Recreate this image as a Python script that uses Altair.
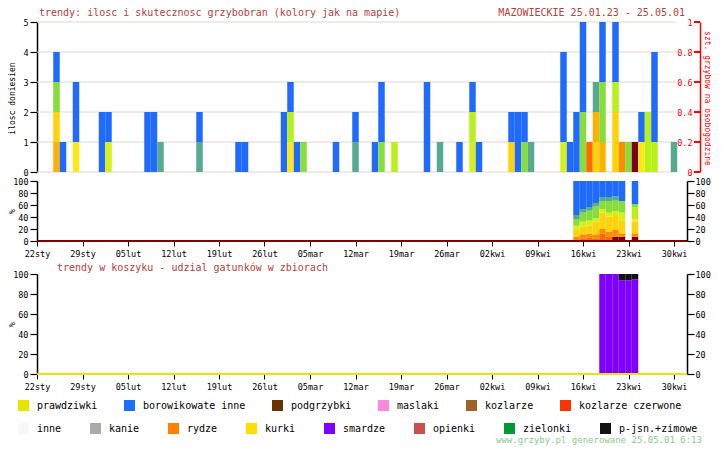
import altair as alt
import pandas as pd

FONT = "DejaVu Sans Mono"
TITLE_RED = "#b5403c"
GRID = "#e2d4cc"

# ---- date axis (day index 0 = 22 Jan 2025) ----
tick_days = [0, 7, 14, 21, 28, 35, 42, 49, 56, 63, 70, 77, 84, 91, 98]
tick_labels = ["22sty", "29sty", "05lut", "12lut", "19lut", "26lut", "05mar", "12mar",
               "19mar", "26mar", "02kwi", "09kwi", "16kwi", "23kwi", "30kwi"]
label_expr = "[" + ",".join("'%s'" % s for s in tick_labels) + "][round(datum.value / 7)]"

# ---- success levels (map colours), bottom -> top ----
level_codes = ["m", "do", "o", "a", "g", "y", "yl", "yg", "lg", "t", "b"]
level_colors = ["#7d0015", "#ff6a00", "#ff8c00", "#ffb000", "#ffd30c", "#ffe81a",
                "#d8f01a", "#b8f01a", "#86dd3c", "#55aa90", "#1f6bff"]

# ---- top chart: reports per day, stacked bottom -> top ----
top_days = [3, 4, 6, 10, 11, 17, 18, 19, 25, 31, 32, 38, 39, 40, 41, 46, 49, 52, 53, 55,
            60, 62, 65, 67, 68, 73, 74, 75, 76, 81, 82, 83, 84, 85, 86, 87, 89, 90, 91, 92,
            93, 94, 95, 98]
top_stacks = ["a g lg b", "b", "y b b", "b b", "yl b", "b b", "b b", "t", "t b", "b",
              "b", "b b", "y yg b", "b", "lg", "b", "t b", "b", "lg b b", "yg",
              "b b b", "t", "b", "yl yg b", "b", "g b", "b b", "lg b", "t", "yl b b b",
              "b", "b b", "lg lg b b b", "do", "g a t", "a lg lg b b", "g g yg b b", "o", "lg", "m",
              "y b", "yg yg", "yg b b b", "t"]
right_vals = [0, 0.2, 0.4, 0.6, 0.8, 1]
count_vals = [0, 1, 2, 3, 4, 5]

# ---- middle chart: % share of levels per day (order = level_codes) ----
mid_days = [83, 84, 85, 86, 87, 88, 89, 90, 92]
mid_shares = [
    [0, 0, 7.2, 0, 11.1, 0, 7.2, 0, 11.1, 6.7, 56.7],
    [0, 4.4, 6.7, 0, 12.8, 0, 8.3, 0, 15.0, 6.1, 46.7],
    [0, 6.1, 5.6, 0, 13.9, 0, 8.3, 0, 16.7, 6.1, 43.3],
    [0, 4.4, 5.6, 0, 22.2, 0, 5.6, 0, 20.6, 5.0, 36.6],
    [0, 12.8, 7.2, 0, 27.2, 0, 6.1, 0, 13.3, 6.7, 26.7],
    [0, 7.2, 8.3, 0, 25.0, 0, 6.7, 0, 19.4, 6.7, 26.7],
    [7.2, 0, 12.2, 0, 23.9, 0, 6.7, 0, 17.2, 7.2, 25.6],
    [7.2, 0, 5.6, 0, 20.6, 0, 13.9, 0, 19.4, 0, 33.3],
    [7.2, 0, 5.6, 0, 19.4, 4.4, 0, 19.4, 5.6, 0, 38.4],
]
pct_vals = [0, 20, 40, 60, 80, 100]

# ---- bottom chart: species share in basket ----
bot_days = [87, 88, 89, 90, 91, 92]
smardze_share = [100, 100, 100, 93.7, 93.7, 94.7]
pjsn_share = [0, 0, 0, 6.3, 6.3, 5.3]

row1_species = ["prawdziwki", "borowikowate inne", "podgrzybki", "maslaki", "kozlarze",
                "kozlarze czerwone"]
row1_colors = ["#e6e600", "#1e6eff", "#6b3300", "#ff88dd", "#a0602a", "#ff3300"]
row2_species = ["inne", "kanie", "rydze", "kurki", "smardze", "opienki", "zielonki",
                "p-jsn.+zimowe"]
row2_colors = ["#f8f8f8", "#aaaaaa", "#ff8000", "#ffdd00", "#8000ff", "#c85050", "#009933",
               "#111111"]

title_left = "trendy: ilosc i skutecznosc grzybobran (kolory jak na mapie)"
title_right = "MAZOWIECKIE 25.01.23 - 25.05.01"
title_bottom = "trendy w koszyku - udzial gatunków w zbiorach"
footer = "www.grzyby.pl generowane 25.05.01  6:13"

# ---------------- data frames ----------------
rows = []
for d, s in zip(top_days, top_stacks):
    acc = 0
    for code in s.split():
        rows.append(dict(x0=d - 0.5, x1=d + 0.5, y0=acc, y1=acc + 1, level=code))
        acc += 1
top_df = pd.DataFrame(rows)

rows = []
for d, shares in zip(mid_days, mid_shares):
    tot = sum(shares)
    acc = 0.0
    for code, v in zip(level_codes, shares):
        if v > 0:
            v = v * 100.0 / tot
            rows.append(dict(x0=d - 0.5, x1=d + 0.5, y0=acc, y1=acc + v, level=code))
            acc += v
mid_df = pd.DataFrame(rows)

rows = []
for d, a, b in zip(bot_days, smardze_share, pjsn_share):
    rows.append(dict(x0=d - 0.5, x1=d + 0.5, y0=0, y1=a, species="smardze"))
    if b > 0:
        rows.append(dict(x0=d - 0.5, x1=d + 0.5, y0=a, y1=a + b, species="p-jsn.+zimowe"))
bot_df = pd.DataFrame(rows)

level_scale = alt.Scale(domain=level_codes, range=level_colors)


def date_axis():
    return alt.Axis(values=tick_days, labelExpr=label_expr, title=None, grid=False,
                    domain=False, tickColor="black", tickSize=5, tickWidth=1,
                    labelPadding=3, labelFont=FONT, labelFontSize=8.5, labelColor="black",
                    labelOverlap=False, labelFlush=False, labelBound=False)


def left_axis(vals, title, ty, fmt="d"):
    return alt.Axis(orient="left", values=vals, format=fmt, title=title, titleX=-29, titleY=ty,
                    titleAngle=270, titleBaseline="top", titleAlign="center",
                    titleFont=FONT, titleFontSize=8, titleFontWeight="normal",
                    titleColor="black", domainColor="black", domainWidth=1.5,
                    tickColor="black", tickSize=7, tickWidth=1.2, labelPadding=2,
                    labelFont=FONT, labelFontSize=8.5, labelColor="black", grid=False,
                    labelOverlap=False, labelFlush=False)


def right_pct_axis():
    return alt.Axis(orient="right", values=pct_vals, format="d", title=None,
                    domainColor="black", domainWidth=1.5, tickColor="black", tickSize=7,
                    tickWidth=1.2, labelPadding=1, labelFont=FONT, labelFontSize=8.5,
                    labelColor="black", grid=False, labelOverlap=False, labelFlush=False)


# ---------------- top chart ----------------
grid_df = pd.DataFrame({"v": right_vals})
top_grid = alt.Chart(grid_df).mark_rule(color=GRID, strokeWidth=1).encode(
    x=alt.value(0), x2=alt.value(639),
    y=alt.Y("v:Q", scale=alt.Scale(domain=[0, 1], nice=False),
            axis=alt.Axis(orient="right", values=right_vals, format="~g",
                          title="szt. grzybow na osobogodzine", titleX=4, titleY=76,
                          titleAngle=90, titleBaseline="alphabetic", titleAlign="center",
                          titleFont=FONT, titleFontSize=8, titleFontWeight="normal",
                          titleColor="#ff0000", domainColor="#ff0000", domainWidth=1.5,
                          ticks=False, tickSize=0, labelPadding=-8, labelAlign="right",
                          labelFont=FONT, labelFontSize=8.5, labelColor="#ff0000",
                          grid=False, labelOverlap=False, labelFlush=False)),
)
top_ticks = alt.Chart(grid_df).mark_rule(color="#ff0000", strokeWidth=2).encode(
    x=alt.value(657), x2=alt.value(663),
    y=alt.Y("v:Q", scale=alt.Scale(domain=[0, 1], nice=False), axis=None),
)
top_bars = alt.Chart(top_df).mark_bar().encode(
    x=alt.X("x0:Q", scale=alt.Scale(domain=[0, 102], nice=False, zero=False), axis=None),
    x2="x1:Q",
    y=alt.Y("y0:Q", scale=alt.Scale(domain=[0, 5], nice=False),
            axis=left_axis(count_vals, "ilosc doniesien", 76)),
    y2="y1:Q",
    color=alt.Color("level:N", scale=level_scale, legend=None),
)
top_tl = alt.Chart(pd.DataFrame({"t": [title_left]})).mark_text(
    align="left", baseline="top", font=FONT, fontSize=10, color=TITLE_RED
).encode(x=alt.value(2), y=alt.value(-14), text="t:N")
top_tr = alt.Chart(pd.DataFrame({"t": [title_right]})).mark_text(
    align="right", baseline="top", font=FONT, fontSize=10, color=TITLE_RED
).encode(x=alt.value(648), y=alt.value(-14), text="t:N")

top = alt.layer(top_grid, top_ticks, top_bars, top_tl, top_tr).resolve_scale(
    y="independent").properties(width=663, height=150)

# ---------------- middle chart ----------------
mid_bars = alt.Chart(mid_df).mark_bar().encode(
    x=alt.X("x0:Q", scale=alt.Scale(domain=[0, 100], nice=False, zero=False), axis=date_axis()),
    x2="x1:Q",
    y=alt.Y("y0:Q", scale=alt.Scale(domain=[0, 100], nice=False),
            axis=left_axis(pct_vals, "%", 30)),
    y2="y1:Q",
    color=alt.Color("level:N", scale=level_scale, legend=None),
)
mid_base = alt.Chart(pd.DataFrame({"v": [0]})).mark_rule(color="#800000", strokeWidth=2).encode(
    y=alt.Y("v:Q", scale=alt.Scale(domain=[0, 100], nice=False), axis=right_pct_axis()),
)
mid = alt.layer(mid_bars, mid_base).resolve_axis(y="independent").properties(width=650, height=60)

# ---------------- bottom chart ----------------
legend_common = dict(orient="none", direction="horizontal", title=None, symbolType="square",
                     symbolSize=121, symbolStrokeWidth=0, labelFont=FONT, labelFontSize=10,
                     labelColor="black", labelOffset=8, gridAlign="each")
bot_bars = alt.Chart(bot_df).mark_bar().encode(
    x=alt.X("x0:Q", scale=alt.Scale(domain=[0, 100], nice=False, zero=False), axis=date_axis()),
    x2="x1:Q",
    y=alt.Y("y0:Q", scale=alt.Scale(domain=[0, 100], nice=False),
            axis=left_axis(pct_vals, "%", 50)),
    y2="y1:Q",
    color=alt.Color("species:N", scale=alt.Scale(domain=row2_species, range=row2_colors),
                    legend=alt.Legend(legendX=-19, legendY=149, columns=8, columnPadding=28,
                                      **legend_common)),
)
bot_base = alt.Chart(pd.DataFrame({"v": [0]})).mark_rule(color="#e6e600", strokeWidth=2).encode(
    y=alt.Y("v:Q", scale=alt.Scale(domain=[0, 100], nice=False), axis=right_pct_axis()),
)
# zero-height prawdziwki share: carries the first legend row
bot_leg1 = alt.Chart(pd.DataFrame({"species": [row1_species[0]], "x0": [50], "x1": [51],
                                   "v0": [0], "v1": [0]})).mark_bar().encode(
    x="x0:Q", x2="x1:Q",
    y=alt.Y("v0:Q", axis=None), y2="v1:Q",
    color=alt.Color("species:N", scale=alt.Scale(domain=row1_species, range=row1_colors),
                    legend=alt.Legend(legendX=-19, legendY=126, columns=6, columnPadding=26,
                                      **legend_common)),
)
bot_title = alt.Chart(pd.DataFrame({"t": [title_bottom]})).mark_text(
    align="left", baseline="top", font=FONT, fontSize=10, color=TITLE_RED
).encode(x=alt.value(20), y=alt.value(-11), text="t:N")
bot_footer = alt.Chart(pd.DataFrame({"t": [footer]})).mark_text(
    align="left", baseline="middle", font=FONT, fontSize=9, color="#8cc88c"
).encode(x=alt.value(459), y=alt.value(166), text="t:N")

bot = alt.layer(bot_bars, bot_base, bot_leg1, bot_title, bot_footer).resolve_scale(
    color="independent").resolve_axis(y="independent").properties(width=650, height=100)

chart = alt.vconcat(
    alt.vconcat(top, mid, spacing=0),
    bot, spacing=5,
).resolve_scale(color="independent").properties(padding=0).configure_view(stroke=None)

chart.save("out.html", embed_options={"renderer": "svg", "actions": False})
